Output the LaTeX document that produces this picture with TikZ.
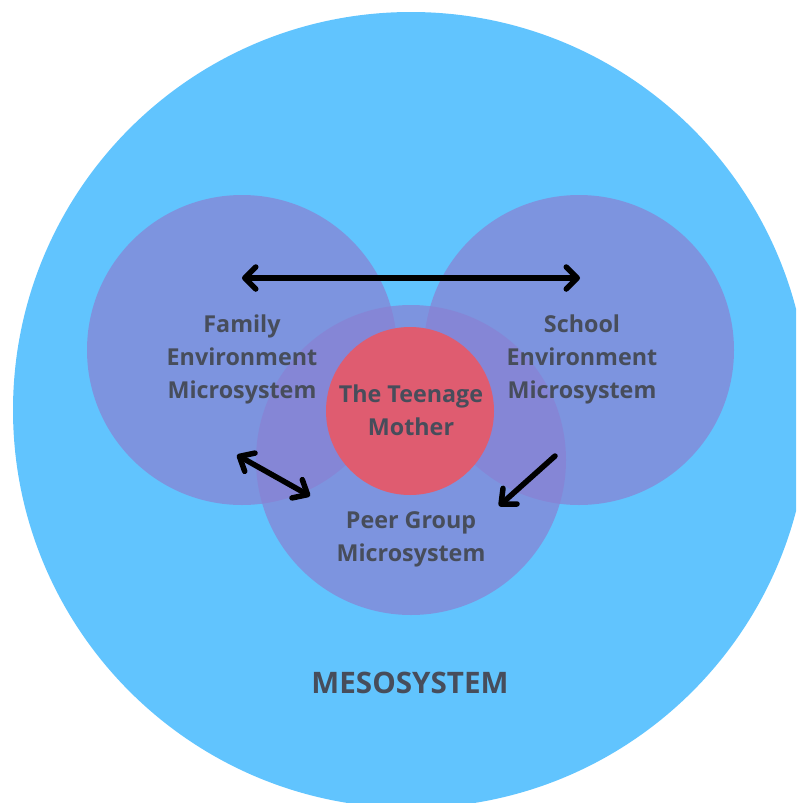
\documentclass[tikz,border=0pt]{standalone}
\usepackage{fontspec}
\newfontfamily\labelfont{Open Sans}
\usetikzlibrary{arrows.meta}

\definecolor{meso}{RGB}{97,196,254}
\definecolor{micro}{RGB}{137,129,211}
\definecolor{core}{RGB}{223,92,112}
\definecolor{ink}{RGB}{71,77,91}

\tikzset{
  mesodisc/.style={circle, fill=meso, minimum size=796pt, inner sep=0pt},
  microdisc/.style={circle, fill=micro, fill opacity=0.7, minimum size=310pt, inner sep=0pt},
  coredisc/.style={circle, fill=core, minimum size=168pt, inner sep=0pt},
  label/.style={text=ink, align=center, inner sep=0pt,
    font=\labelfont\bfseries\fontsize{23.3}{33}\selectfont},
  title/.style={text=ink, inner sep=0pt,
    font=\labelfont\bfseries\fontsize{29.6}{34}\selectfont},
  link/.style={black, line width=5.5pt, line cap=round, line join=round},
  barb/.tip={Straight Barb[length=11pt, width=22pt, round]},
  head/.tip={Straight Barb[length=12pt, width=21pt, round]}
}

\begin{document}
\begin{tikzpicture}[x=1pt, y=-1pt]
  \useasboundingbox (0,0) rectangle (796,803);
  \clip (0,0) rectangle (796,803);

  % discs, outermost first
  \node[mesodisc] (meso) at (411,410) {};
  \node[microdisc] (family) at (242,350) {};
  \node[microdisc] (school) at (579,350) {};
  \node[microdisc] (peer) at (411,460) {};
  \node[coredisc] (mother) at (410,411) {};

  % labels
  \node[label] (familytext) at (242,359.5) {Family\\Environment\\Microsystem};
  \node[label] (schooltext) at (582,359.5) {School\\Environment\\Microsystem};
  \node[label] (peertext) at (411,539.5) {Peer Group\\Microsystem};
  \node[label] (mothertext) at (411,410) {The Teenage\\Mother};
  \node[title] (mesotext) at (410,683) {MESOSYSTEM};

  % arrow end points
  \coordinate (famtop) at (242,278);
  \coordinate (schtop) at (580,278);
  \coordinate (famlow) at (237,455);
  \coordinate (peerleft) at (310,496);
  \coordinate (schlow) at (555,456);
  \coordinate (peerright) at (499,506);

  % connections between the microsystems
  \draw[link, barb-barb] (famtop) -- (schtop);
  \draw[link, head-head] (famlow) -- (peerleft);
  \draw[link, -head] (schlow) -- (peerright);
\end{tikzpicture}
\end{document}
